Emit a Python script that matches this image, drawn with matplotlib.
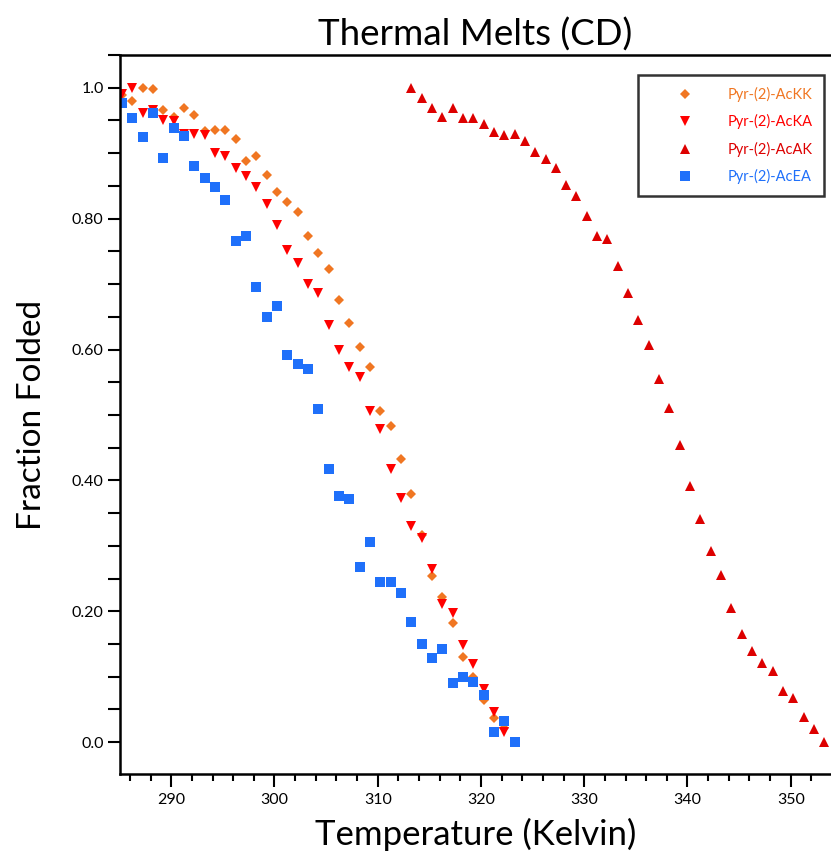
import matplotlib
matplotlib.use("Agg")
import matplotlib.pyplot as plt
from matplotlib.ticker import MultipleLocator, FixedLocator

plt.rcParams['font.family'] = ['Lato', 'DejaVu Sans']

# temperatures (K)
temp_low = [285.25, 286.25, 287.25, 288.25, 289.25, 290.25, 291.25, 292.25, 293.25,
            294.25, 295.25, 296.25, 297.25, 298.25, 299.25, 300.25, 301.25, 302.25,
            303.25, 304.25, 305.25, 306.25, 307.25, 308.25, 309.25, 310.25, 311.25,
            312.25, 313.25, 314.25, 315.25, 316.25, 317.25, 318.25, 319.25, 320.25,
            321.25, 322.25, 323.25]
temp_high = [313.25, 314.25, 315.25, 316.25, 317.25, 318.25, 319.25, 320.25, 321.25,
             322.25, 323.25, 324.25, 325.25, 326.25, 327.25, 328.25, 329.25, 330.25,
             331.25, 332.25, 333.25, 334.25, 335.25, 336.25, 337.25, 338.25, 339.25,
             340.25, 341.25, 342.25, 343.25, 344.25, 345.25, 346.25, 347.25, 348.25,
             349.25, 350.25, 351.25, 352.25, 353.25]

# fraction folded
acKK = [0.989, 0.980, 1.000, 0.998, 0.966, 0.956, 0.969, 0.958, 0.934, 0.935,
        0.936, 0.922, 0.888, 0.896, 0.866, 0.841, 0.826, 0.810, 0.773, 0.748,
        0.723, 0.675, 0.641, 0.604, 0.574, 0.506, 0.483, 0.432, 0.379, 0.317,
        0.254, 0.222, 0.182, 0.130, 0.100, 0.064, 0.037, 0.022]
acKA = [0.991, 1.000, 0.961, 0.966, 0.950, 0.949, 0.930, 0.930, 0.928, 0.900,
        0.896, 0.878, 0.865, 0.849, 0.823, 0.790, 0.752, 0.732, 0.700, 0.686,
        0.637, 0.599, 0.574, 0.558, 0.506, 0.479, 0.418, 0.373, 0.331, 0.312,
        0.264, 0.211, 0.197, 0.149, 0.120, 0.082, 0.046, 0.016]
acAK = [0.999, 0.985, 0.969, 0.956, 0.969, 0.954, 0.954, 0.944, 0.932, 0.927,
        0.930, 0.918, 0.902, 0.891, 0.878, 0.851, 0.834, 0.804, 0.774, 0.769,
        0.727, 0.686, 0.645, 0.607, 0.555, 0.511, 0.454, 0.392, 0.341, 0.292,
        0.256, 0.205, 0.165, 0.139, 0.121, 0.109, 0.078, 0.068, 0.038, 0.020,
        0.000]
acEA = [0.976, 0.953, 0.924, 0.962, 0.893, 0.939, 0.926, 0.880, 0.862, 0.849,
        0.828, 0.766, 0.774, 0.696, 0.650, 0.666, 0.592, 0.578, 0.570, 0.509,
        0.418, 0.376, 0.371, 0.267, 0.306, 0.244, 0.244, 0.228, 0.184, 0.150,
        0.128, 0.142, 0.091, 0.099, 0.092, 0.072, 0.015, 0.033, 0.001]

names = ['Pyr-(2)-AcKK', 'Pyr-(2)-AcKA', 'Pyr-(2)-AcAK', 'Pyr-(2)-AcEA']
colors = ['#F07622', '#FF0000', '#DD0000', '#1F70FA']

ytick_vals = [0.0, 0.2, 0.4, 0.6, 0.8, 1.0]
ytick_labels = ['0.0', '0.20', '0.40', '0.60', '0.80', '1.0']

fig = plt.figure(figsize=(8.31, 8.58), dpi=100)
ax = fig.add_axes([0.1444, 0.0976, 0.8556, 0.8383])

ax.plot(temp_low[:len(acKK)], acKK, 'D', ms=5.0, mew=0, color=colors[0], label=names[0])
ax.plot(temp_low[:len(acKA)], acKA, 'v', ms=6.8, mew=0, color=colors[1], label=names[1])
ax.plot(temp_high, acAK, '^', ms=6.8, mew=0, color=colors[2], label=names[2])
ax.plot(temp_low, acEA, 's', ms=6.5, mew=0, color=colors[3], label=names[3])

ax.set_xlim(285.04, 353.9)
ax.set_ylim(-0.049, 1.050)

ax.xaxis.set_major_locator(FixedLocator([290, 300, 310, 320, 330, 340, 350]))
ax.xaxis.set_minor_locator(MultipleLocator(2))
ax.set_yticks(ytick_vals)
ax.set_yticklabels(ytick_labels)
ax.yaxis.set_minor_locator(MultipleLocator(0.05))

ax.tick_params(axis='x', which='major', length=9.5, width=1.5, direction='out', labelsize=11.5, pad=4)
ax.tick_params(axis='x', which='minor', length=5, width=1.5, direction='out')
ax.tick_params(axis='y', which='both', length=8.8, width=1.5, direction='out', labelsize=11.5, pad=3)

for s in ['left', 'bottom', 'top']:
    ax.spines[s].set_linewidth(1.8)
ax.spines['right'].set_visible(False)

ax.set_title('Thermal Melts (CD)', fontsize=26.5, pad=7)
ax.set_xlabel('Temperature (Kelvin)', fontsize=25, labelpad=8)
ax.set_ylabel('Fraction Folded', fontsize=24, labelpad=18)

leg = ax.legend(loc='upper right', bbox_to_anchor=(0.990, 0.972), borderaxespad=0,
                fontsize=10.5, frameon=True, fancybox=False, edgecolor='black',
                borderpad=0.8, handlelength=4.8, handletextpad=0.5, labelspacing=0.85,
                numpoints=1)
leg.get_frame().set_linewidth(1.8)
for txt, c in zip(leg.get_texts(), colors):
    txt.set_color(c)

fig.savefig('out.png', dpi=100)
